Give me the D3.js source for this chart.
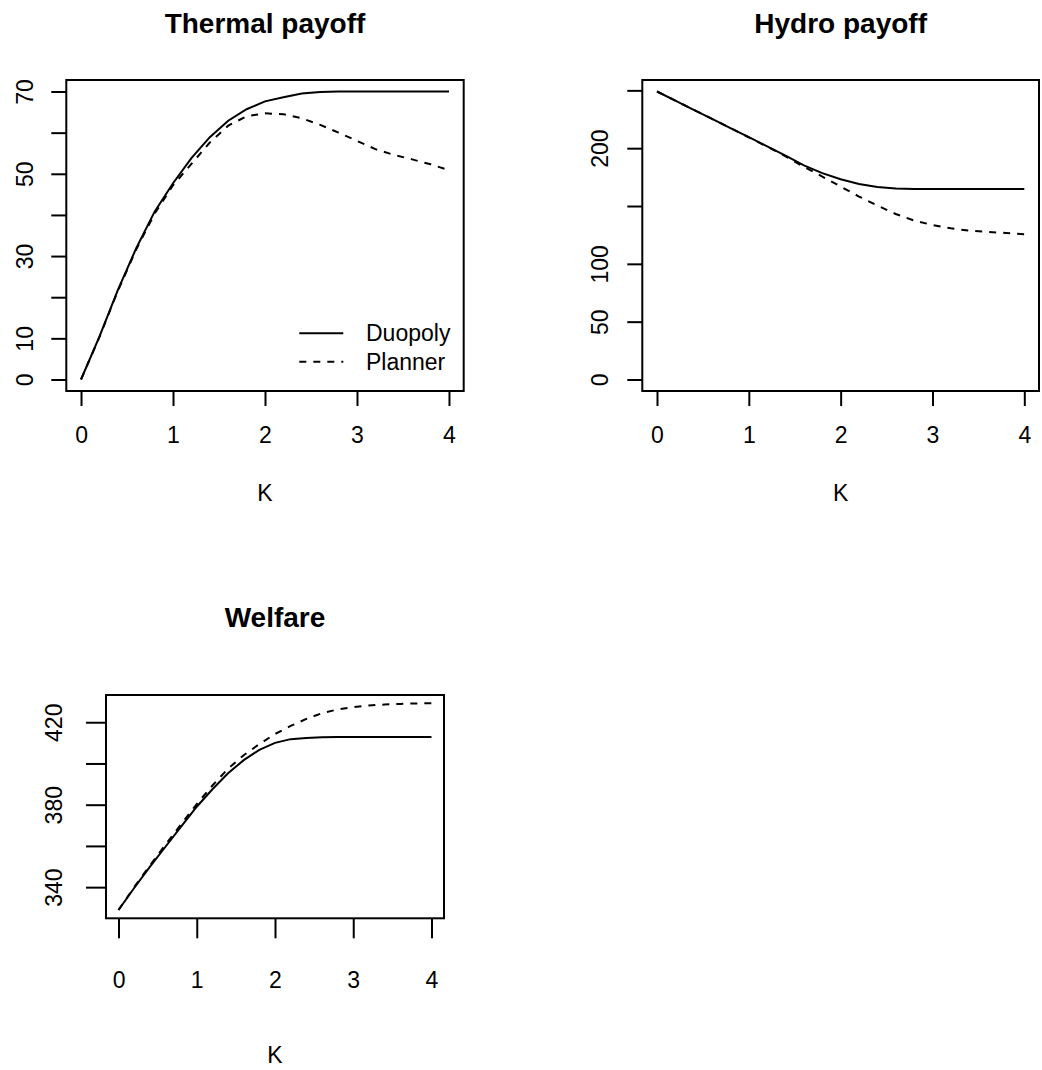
<!DOCTYPE html>
<html>
<head>
<meta charset="utf-8">
<script src="https://cdn.jsdelivr.net/npm/d3@7"></script>
<style>
  body { margin: 0; background: #fff; }
  svg { display: block; font-family: "Liberation Sans", Arial, sans-serif; }
</style>
</head>
<body>
<svg width="1042" height="1070"></svg>
<script>
// K grid
const K = [0, 0.2, 0.4, 0.6, 0.8, 1.0, 1.2, 1.4, 1.6, 1.8, 2.0, 2.2, 2.4, 2.6, 2.8, 3.0, 3.2, 3.4, 3.6, 3.8, 4.0];
const xTicks = [0, 1, 2, 3, 4];

// thermal payoff
const thermalDuopoly = [0, 10.4, 21.7, 31.9, 40.8, 47.7, 53.8, 58.9, 62.9, 65.7, 67.6, 68.6, 69.5, 69.9, 70, 70, 70, 70, 70, 70, 70];
const thermalPlanner = [0, 10.3, 21.5, 31.6, 40.3, 47.2, 52.4, 57.6, 61.7, 64.0, 64.7, 64.5, 63.5, 61.9, 60.0, 58.0, 56.0, 54.6, 53.5, 52.3, 50.9];
const thermalTicks = [0, 10, 20, 30, 40, 50, 60, 70];
const thermalLabels = [0, 10, 30, 50, 70];

// hydro payoff
const hydroDuopoly = [249, 241.1, 233.2, 225.3, 217.4, 209.5, 201.6, 193.6, 185.2, 178.4, 173.2, 169.1, 166.5, 165.1, 164.8, 164.8, 164.8, 164.8, 164.8, 164.8, 164.8];
const hydroPlanner = [249, 241.1, 233.2, 225.3, 217.4, 209.4, 201.3, 193.0, 183.8, 175.5, 166.8, 158.2, 150.4, 143.1, 137.4, 133.6, 130.7, 128.7, 127.6, 126.7, 125.5];
const hydroTicks = [0, 50, 100, 150, 200, 250];
const hydroLabels = [0, 50, 100, 200];

// welfare
const welfareDuopoly = [328.9, 339.6, 349.8, 359.6, 369.4, 379.0, 387.5, 395.2, 401.6, 406.6, 410.0, 411.8, 412.4, 412.7, 412.8, 412.8, 412.8, 412.8, 412.8, 412.8, 412.8];
const welfarePlanner = [328.9, 340.0, 350.4, 360.6, 370.5, 380.3, 389.3, 397.5, 404.0, 409.4, 414.3, 418.2, 421.6, 424.4, 426.2, 427.3, 428.1, 428.6, 428.9, 429.1, 429.2];
const welfareTicks = [340, 360, 380, 400, 420];
const welfareLabels = [340, 380, 420];

const legendNames = ["Duopoly", "Planner"];

const svg = d3.select("svg");
const FS = 23;

function pad(lo, hi) {
  const p = (hi - lo) * 0.04;
  return [lo - p, hi + p];
}

function panel(o) {
  const x = d3.scaleLinear().domain(pad(0, 4)).range([o.left, o.right]);
  const y = d3.scaleLinear().domain(pad(o.ylim[0], o.ylim[1])).range([o.bottom, o.top]);
  const g = svg.append("g");

  // title
  g.append("text")
    .attr("x", (o.left + o.right) / 2).attr("y", o.titleY)
    .attr("text-anchor", "middle")
    .attr("font-size", 28).attr("font-weight", "bold")
    .text(o.title);

  // x axis
  const xa = g.append("g")
    .attr("transform", `translate(0,${o.bottom})`)
    .call(d3.axisBottom(x).tickValues(xTicks).tickSize(o.tick).tickFormat(d3.format("d")));
  xa.select(".domain").remove();
  xa.selectAll("line").attr("stroke", "#000").attr("stroke-width", 2);
  xa.selectAll("text")
    .attr("y", o.xLabY - o.bottom).attr("dy", 0)
    .attr("font-size", FS).attr("font-family", "Liberation Sans, Arial, sans-serif").attr("fill", "#000");

  // y axis
  const ya = g.append("g")
    .attr("transform", `translate(${o.left},0)`)
    .call(d3.axisLeft(y).tickValues(o.yTicks).tickSize(o.tick)
      .tickFormat(d => o.yLabels.includes(d) ? d : ""));
  ya.select(".domain").remove();
  ya.selectAll("line").attr("stroke", "#000").attr("stroke-width", 2);
  ya.selectAll("text")
    .attr("x", null).attr("dy", 0)
    .attr("text-anchor", "middle")
    .attr("transform", `translate(${o.yLabX - o.left},0) rotate(-90)`)
    .attr("font-size", FS).attr("font-family", "Liberation Sans, Arial, sans-serif").attr("fill", "#000");

  // x label
  g.append("text")
    .attr("x", (o.left + o.right) / 2).attr("y", o.kY)
    .attr("text-anchor", "middle").attr("font-size", FS)
    .text("K");

  // lines
  const line = d3.line().x((d, i) => x(K[i])).y(d => y(d));
  g.append("path").datum(o.duo).attr("d", line)
    .attr("fill", "none").attr("stroke", "#000").attr("stroke-width", 2);
  g.append("path").datum(o.plan).attr("d", line)
    .attr("fill", "none").attr("stroke", "#000").attr("stroke-width", 2)
    .attr("stroke-dasharray", "7,7");

  // box
  g.append("rect")
    .attr("x", o.left).attr("y", o.top)
    .attr("width", o.right - o.left).attr("height", o.bottom - o.top)
    .attr("fill", "none").attr("stroke", "#000").attr("stroke-width", 2);

  return g;
}

const p1 = panel({
  title: "Thermal payoff", left: 66.3, right: 463.7, top: 80, bottom: 391,
  ylim: [0, 70], yTicks: thermalTicks, yLabels: thermalLabels,
  duo: thermalDuopoly, plan: thermalPlanner,
  tick: 15, xLabY: 443, yLabX: 33, titleY: 33, kY: 501
});

panel({
  title: "Hydro payoff", left: 642.3, right: 1039, top: 80, bottom: 391,
  ylim: [0, 249], yTicks: hydroTicks, yLabels: hydroLabels,
  duo: hydroDuopoly, plan: hydroPlanner,
  tick: 15, xLabY: 443, yLabX: 608, titleY: 33, kY: 501
});

panel({
  title: "Welfare", left: 106, right: 444, top: 695, bottom: 918.3,
  ylim: [d3.min(welfareDuopoly.concat(welfarePlanner)), d3.max(welfareDuopoly.concat(welfarePlanner))],
  yTicks: welfareTicks, yLabels: welfareLabels,
  duo: welfareDuopoly, plan: welfarePlanner,
  tick: 20, xLabY: 988, yLabX: 62, titleY: 627, kY: 1063
});

// legend in thermal panel
const leg = p1.append("g");
legendNames.forEach((name, i) => {
  const ly = 333.3 + i * 28.4;
  leg.append("line")
    .attr("x1", 299.3).attr("x2", 343.3).attr("y1", ly).attr("y2", ly)
    .attr("stroke", "#000").attr("stroke-width", 2)
    .attr("stroke-dasharray", i === 1 ? "7,7" : null);
  leg.append("text")
    .attr("x", 366).attr("y", ly).attr("dy", "0.35em")
    .attr("font-size", FS).text(name);
});
</script>
</body>
</html>
